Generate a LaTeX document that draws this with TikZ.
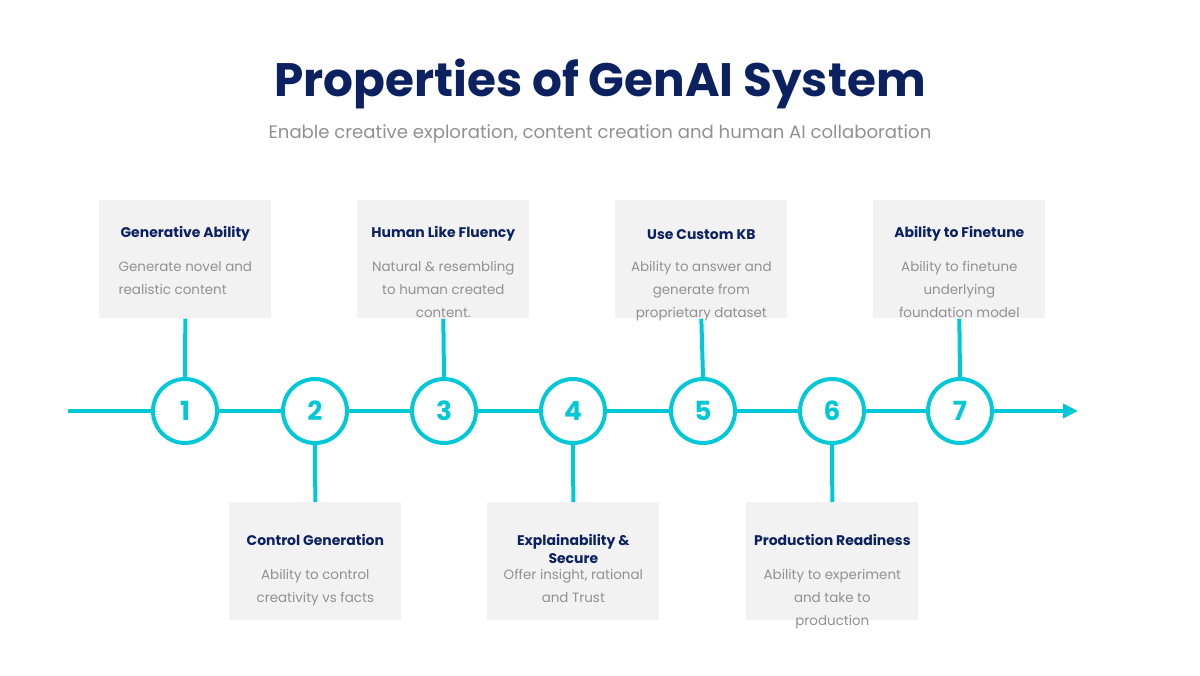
\documentclass[tikz,border=0pt]{standalone}
\usepackage{fontspec}
\setmainfont{Poppins}
\usetikzlibrary{arrows.meta,positioning}
\definecolor{titlenavy}{RGB}{12,34,96}
\definecolor{stepcyan}{RGB}{0,200,215}
\definecolor{cardgray}{RGB}{242,242,242}
\definecolor{textgray}{RGB}{145,145,145}

\begin{document}
\begin{tikzpicture}[
  x=0.02cm, y=-0.02cm,
  >={Triangle[length=0.3cm,width=0.28cm]},
  every node/.style={inner sep=0pt},
  card/.style={rectangle, fill=cardgray, minimum width=3.44cm, minimum height=2.36cm},
  stepnum/.style={circle, draw=stepcyan, line width=0.08cm, fill=white,
      minimum size=1.28cm, text=stepcyan, font=\bfseries\fontsize{15}{15}\selectfont},
  cardtitle/.style={font=\bfseries\fontsize{7.95}{10}\selectfont, text=titlenavy, align=center},
  carddesc/.style={font=\fontsize{7.65}{13}\selectfont, text=textgray, align=center},
  link/.style={draw=stepcyan, line width=0.08cm}
]
\path[fill=white, use as bounding box] (0,0) rectangle (1200,676);

% heading
\node[font=\bfseries\fontsize{26.7}{30}\selectfont, text=titlenavy] (title) at (600,84) {Properties of GenAI System};
\node[font=\fontsize{10.3}{12}\selectfont, text=textgray] (subtitle) at (600,134) {Enable creative exploration, content creation and human AI collaboration};

% timeline steps
\node[stepnum] (c1) at (185,411) {1};
\node[stepnum] (c2) at (315,411) {2};
\node[stepnum] (c3) at (444,411) {3};
\node[stepnum] (c4) at (573,411) {4};
\node[stepnum] (c5) at (703,411) {5};
\node[stepnum] (c6) at (832,411) {6};
\node[stepnum] (c7) at (960,411) {7};
\coordinate (start) at (68,411);
\coordinate (finish) at (1078,411);

% cards above
\node[card, anchor=north west] (b1) at (99,200) {};
\node[card, anchor=north west] (b3) at (357,200) {};
\node[card, anchor=north west] (b5) at (615,200) {};
\node[card, anchor=north west] (b7) at (873,200) {};
% cards below
\node[card, anchor=north west] (b2) at (229,502) {};
\node[card, anchor=north west] (b4) at (487,502) {};
\node[card, anchor=north west] (b6) at (746,502) {};

\node[cardtitle, below=0.52cm of b1.north] (t1) {Generative Ability};
\node[carddesc, align=left, below=1.22cm of b1.north] (d1) {Generate novel and\\realistic content};
\node[cardtitle, below=0.52cm of b3.north] (t3) {Human Like Fluency};
\node[carddesc, below=1.22cm of b3.north] (d3) {Natural \& resembling\\to human created\\content.};
\node[cardtitle, below=0.58cm of b5.north] (t5) {Use Custom KB};
\node[carddesc, below=1.22cm of b5.north] (d5) {Ability to answer and\\generate from\\proprietary dataset};
\node[cardtitle, below=0.52cm of b7.north] (t7) {Ability to Finetune};
\node[carddesc, below=1.22cm of b7.north] (d7) {Ability to finetune\\underlying\\foundation model};

\node[cardtitle, below=0.64cm of b2.north] (t2) {Control Generation};
\node[carddesc, below=1.34cm of b2.north] (d2) {Ability to control\\creativity vs facts};
\node[cardtitle, below=0.64cm of b4.north] (t4) {Explainability \&\\Secure};
\node[carddesc, below=1.34cm of b4.north] (d4) {Offer insight, rational\\and Trust};
\node[cardtitle, below=0.64cm of b6.north] (t6) {Production Readiness};
\node[carddesc, below=1.34cm of b6.north] (d6) {Ability to experiment\\and take to\\production};

% connectors
\draw[link] (start) -- (c1);
\draw[link] (c1) -- (c2);
\draw[link] (c2) -- (c3);
\draw[link] (c3) -- (c4);
\draw[link] (c4) -- (c5);
\draw[link] (c5) -- (c6);
\draw[link] (c6) -- (c7);
\draw[link, ->] (c7) -- (finish);
\draw[link] (b1.south) -- (c1.north);
\draw[link] (b3.south) -- (c3.north);
\draw[link] (b5.south) -- (c5.north);
\draw[link] (b7.south) -- (c7.north);
\draw[link] (c2.south) -- (b2.north);
\draw[link] (c4.south) -- (b4.north);
\draw[link] (c6.south) -- (b6.north);
\end{tikzpicture}
\end{document}
